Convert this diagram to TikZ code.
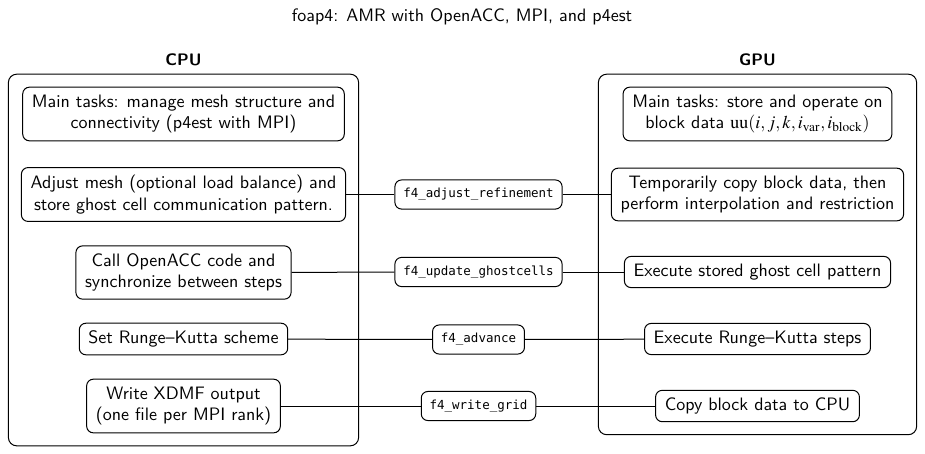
\documentclass[tikz,border=0pt]{standalone}
\usepackage{mathptmx}
\usepackage{fontspec}
\setmonofont{DejaVu Sans Mono}
\usetikzlibrary{positioning,fit}

\begin{document}
\begin{tikzpicture}[x=0.6pt,y=-0.6pt,semithick,
                    font=\sffamily\fontsize{10.8}{13}\selectfont]
  \tikzstyle{task}=[draw,rounded corners=4pt,align=center,
                    inner xsep=5.5pt,inner ysep=4.5pt]
  \tikzstyle{call}=[draw,rounded corners=4pt,inner sep=5pt,
                    font=\ttfamily\fontsize{7.5}{9}\selectfont]
  \tikzstyle{side}=[draw,rounded corners=5pt,inner sep=7.5pt]

  \useasboundingbox (0,0) rectangle (925,453);

  \node (title) at (462,17) {foap4: AMR with OpenACC, MPI, and p4est};

  % CPU column
  \node[task] (C1) at (183.5,114)   {Main tasks: manage mesh structure and\\connectivity (p4est with MPI)};
  \node[task] (C2) at (183.5,194.5) {Adjust mesh (optional load balance) and\\store ghost cell communication pattern.};
  \node[task] (C3) at (183.5,272.5) {Call OpenACC code and\\synchronize between steps};
  \node[task] (C4) at (183.5,339)   {Set Runge--Kutta scheme};
  \node[task] (C5) at (183.5,406)   {Write XDMF output\\(one file per MPI rank)};

  % GPU column
  \node[task] (G1) at (757.5,114)   {Main tasks: store and operate on\\block data $\mathrm{uu}(i,j,k,i_{\mathrm{var}},i_{\mathrm{block}})$};
  \node[task] (G2) at (757.5,194.5) {Temporarily copy block data, then\\perform interpolation and restriction};
  \node[task] (G3) at (757.5,272)   {Execute stored ghost cell pattern};
  \node[task] (G4) at (757.5,339)   {Execute Runge--Kutta steps};
  \node[task] (G5) at (757.5,406)   {Copy block data to CPU};

  % calls in between
  \node[call] (F2) at (478.5,194.5) {f4\_adjust\_refinement};
  \node[call] (F3) at (478.5,272)   {f4\_update\_ghostcells};
  \node[call] (F4) at (478.5,339.5) {f4\_advance};
  \node[call] (F5) at (478.5,406)   {f4\_write\_grid};

  \node[side,fit=(C1) (C2) (C3) (C4) (C5)] (CPU) {};
  \node[side,fit=(G1) (G2) (G3) (G4) (G5)] (GPU) {};
  \node[font=\sffamily\bfseries] (cpulabel) [above=1pt of CPU] {CPU};
  \node[font=\sffamily\bfseries] (gpulabel) [above=1pt of GPU] {GPU};

  \path (C2) edge (F2)
        (F2) edge (G2)
        (C3) edge (F3)
        (F3) edge (G3)
        (C4) edge (F4)
        (F4) edge (G4)
        (C5) edge (F5)
        (F5) edge (G5);
\end{tikzpicture}
\end{document}
